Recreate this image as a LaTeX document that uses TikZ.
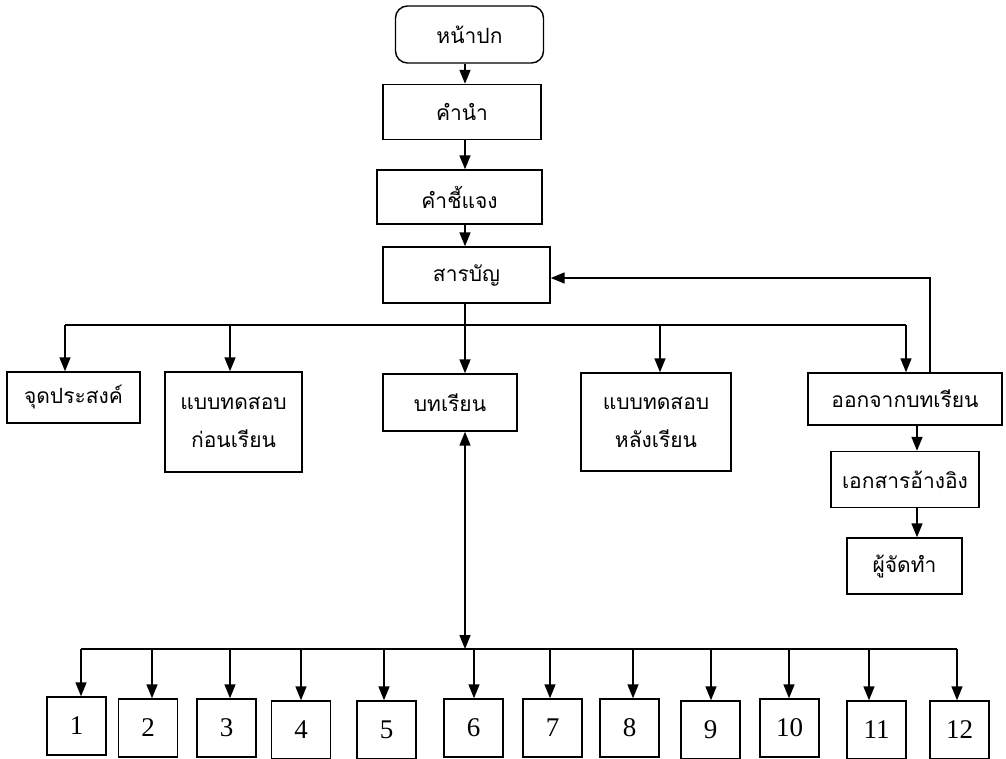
\documentclass[tikz,border=0pt]{standalone}
\usepackage{fontspec}
\setmainfont{Liberation Serif}
\newfontfamily\thaifont[Script=Thai]{Loma}
\usetikzlibrary{arrows.meta}

\begin{document}
\begin{tikzpicture}[x=1pt,y=-1pt,
    box/.style={draw,line width=1.4pt,inner sep=0pt,align=center,
      font=\thaifont\fontsize{21}{38}\selectfont},
    numbox/.style={draw,line width=1.4pt,minimum width=59pt,minimum height=58pt,
      font=\fontsize{27}{30}\selectfont},
    link/.style={line width=1.6pt,-{Triangle[width=11pt,length=14pt]}},
    dlink/.style={line width=1.6pt,{Triangle[width=11pt,length=14pt]}-{Triangle[width=11pt,length=14pt]}},
    wire/.style={line width=1.6pt}]
  \useasboundingbox (0,0) rectangle (1006,759);

  % front part
  \node[box,rounded corners=12pt,minimum width=148pt,minimum height=57pt] (cover) at (469.5,34.5) {หน้าปก};
  \node[box,minimum width=158pt,minimum height=55pt] (intro) at (462,112) {คำนำ};
  \node[box,minimum width=165pt,minimum height=54pt] (guide) at (459.5,197) {คำชี้แจง};
  \node[box,minimum width=167pt,minimum height=56pt] (toc) at (466.5,275) {สารบัญ};
  \coordinate (spine) at (465,0);
  \draw[link] (spine |- cover.south) -- (spine |- intro.north);
  \draw[link] (spine |- intro.south) -- (spine |- guide.north);
  \draw[link] (spine |- guide.south) -- (spine |- toc.north);

  % middle row
  \node[box,minimum width=133pt,minimum height=51pt] (obj) at (73.5,397.5) {จุดประสงค์};
  \node[box,minimum width=137pt,minimum height=100pt] (pre) at (233.5,422) {แบบทดสอบ\\ก่อนเรียน};
  \node[box,minimum width=134pt,minimum height=57pt] (lesson) at (450,402.5) {บทเรียน};
  \node[box,minimum width=150pt,minimum height=98pt] (post) at (656,422) {แบบทดสอบ\\หลังเรียน};
  \node[box,minimum width=194pt,minimum height=52pt] (exit) at (905,399) {ออกจากบทเรียน};
  \node[box,minimum width=148pt,minimum height=56pt] (ref) at (905,479.5) {เอกสารอ้างอิง};
  \node[box,minimum width=115pt,minimum height=56pt] (maker) at (904.5,566) {ผู้จัดทำ};

  \coordinate (bl) at (65,325);
  \coordinate (b2) at (230,325);
  \coordinate (b4) at (660,325);
  \coordinate (br) at (906,325);
  \draw[wire] (bl) -- (br);
  \draw[wire] (spine |- toc.south) -- (spine |- bl);
  \draw[link] (bl) -- (bl |- obj.north);
  \draw[link] (b2) -- (b2 |- pre.north);
  \draw[link] (spine |- bl) -- (spine |- lesson.north);
  \draw[link] (b4) -- (b4 |- post.north);
  \draw[link] (br) -- (br |- exit.north);

  \coordinate (back) at (930,278);
  \draw[link] (back |- exit.north) -- (back) -- (back -| toc.east);

  \coordinate (rs) at (917,0);
  \draw[link] (rs |- exit.south) -- (rs |- ref.north);
  \draw[link] (rs |- ref.south) -- (rs |- maker.north);

  % lesson pages
  \coordinate (hub) at (465,649);
  \draw[dlink] (hub |- lesson.south) -- (hub);
  \draw[wire] (81,649) -- (957,649);
  \foreach \n/\bx/\by/\ax in {1/76.5/726/81, 2/148/728/152, 3/226.5/728/230,
      4/301/730/301, 5/386.5/730/384, 6/473.5/728/474, 7/552.5/728/550,
      8/629.5/728/633, 9/710.5/730/711, 10/789.5/728/789, 11/876.5/730/869,
      12/959.5/730/957}
  {
    \node[numbox] (n\n) at (\bx,\by) {\n};
    \coordinate (a\n) at (\ax,649);
    \draw[link] (a\n) -- (a\n |- n\n.north);
  }
\end{tikzpicture}
\end{document}
